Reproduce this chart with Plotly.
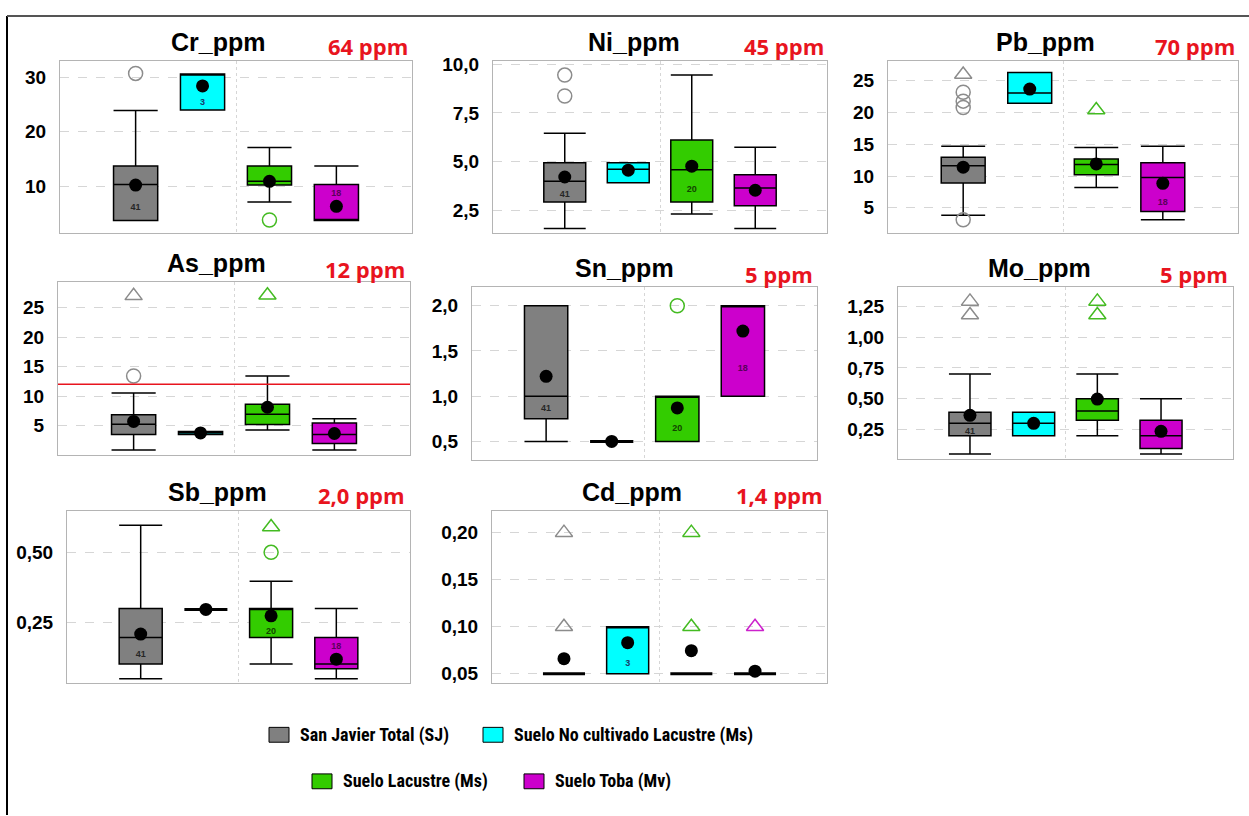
import plotly.graph_objects as go

W, H = 1249, 816

# ---------------- data ----------------
ELEMENTS = ["Cr_ppm", "Ni_ppm", "Pb_ppm", "As_ppm", "Sn_ppm", "Mo_ppm", "Sb_ppm", "Cd_ppm"]
LIMIT_LABELS = ["64 ppm", "45 ppm", "70 ppm", "12 ppm", "5 ppm", "5 ppm", "2,0 ppm", "1,4 ppm"]
LIMIT_VALUES = [64, 45, 70, 12, 5, 5, 2.0, 1.4]
GROUPS = ["San Javier Total (SJ)", "Suelo No cultivado Lacustre (Ms)",
          "Suelo Lacustre (Ms)", "Suelo Toba (Mv)"]

# per element: [SJ, No cultivado, Lacustre, Toba]
LOWER = [
    [3.7, 24.0, 7.1, 3.7],
    [1.55, 3.9, 2.3, 1.55],
    [3.8, 21.45, 8.2, 3.1],
    [0.87, 3.5, 4.25, 0.87],
    [0.5, 0.5, 0.5, 1.0],
    [0.05, 0.2, 0.2, 0.05],
    [0.05, 0.297, 0.103, 0.05],
    [0.05, 0.05, 0.05, 0.05],
]
Q1 = [
    [3.7, 24.0, 10.2, 3.7],
    [2.92, 3.9, 2.92, 2.72],
    [8.9, 21.45, 10.2, 4.4],
    [3.5, 3.5, 5.17, 1.97],
    [0.75, 0.5, 0.5, 1.0],
    [0.2, 0.2, 0.325, 0.095],
    [0.103, 0.297, 0.197, 0.086],
    [0.05, 0.05, 0.05, 0.05],
]
MEDIAN = [
    [10.3, 30.6, 10.9, 3.7],
    [3.98, 4.6, 4.58, 3.64],
    [11.6, 23.1, 11.8, 9.75],
    [5.2, 3.8, 6.9, 3.5],
    [1.0, 0.5, 1.0, 2.0],
    [0.30, 0.30, 0.40, 0.20],
    [0.197, 0.297, 0.30, 0.103],
    [0.05, 0.10, 0.05, 0.05],
]
Q3 = [
    [13.7, 30.6, 13.7, 10.3],
    [4.93, 4.93, 6.1, 4.32],
    [12.96, 26.3, 12.7, 12.1],
    [6.85, 4.0, 8.6, 5.45],
    [2.0, 0.5, 1.0, 2.0],
    [0.39, 0.39, 0.5, 0.325],
    [0.30, 0.297, 0.30, 0.197],
    [0.05, 0.10, 0.05, 0.05],
]
UPPER = [
    [23.9, 30.6, 17.1, 13.7],
    [6.46, 4.93, 9.45, 5.73],
    [14.7, 26.3, 14.5, 14.7],
    [10.5, 4.0, 13.4, 6.15],
    [2.0, 0.5, 1.0, 2.0],
    [0.70, 0.39, 0.70, 0.5],
    [0.596, 0.297, 0.397, 0.30],
    [0.05, 0.10, 0.05, 0.05],
]
MEAN = [
    [10.2, 28.4, 10.9, 6.3],
    [4.2, 4.55, 4.76, 3.52],
    [11.4, 23.7, 11.9, 8.85],
    [5.7, 3.75, 8.1, 3.65],
    [1.22, 0.5, 0.87, 1.72],
    [0.365, 0.30, 0.497, 0.235],
    [0.209, 0.297, 0.274, 0.12],
    [0.066, 0.083, 0.0745, 0.0527],
]
OUTLIERS_CIRCLE = [
    [[30.7], [], [3.8], []],
    [[9.45, 8.37], [], [], []],
    [[23.2, 21.8, 20.8, 3.1], [], [], []],
    [[13.4], [], [], []],
    [[], [], [2.0], []],
    [[], [], [], []],
    [[], [], [0.5], []],
    [[], [], [], []],
]
OUTLIERS_TRIANGLE = [
    [[], [], [], []],
    [[], [], [], []],
    [[26.0], [], [20.4], []],
    [[27.0], [], [27.1], []],
    [[], [], [], []],
    [[1.29, 1.18], [], [1.29, 1.18], []],
    [[], [], [0.59], []],
    [[0.2, 0.1], [], [0.2, 0.1], [0.1]],
]
COUNTS = [
    ["41", "3", "", "18"],
    ["41", "", "20", ""],
    ["", "", "", "18"],
    ["", "", "", ""],
    ["41", "", "20", "18"],
    ["41", "", "", ""],
    ["41", "", "20", "18"],
    ["", "3", "", ""],
]
COUNT_Y = [
    [6.0, 25.3, None, 8.7],
    [3.3, None, 3.57, None],
    [None, None, None, 5.8],
    [None, None, None, None],
    [0.86, None, 0.64, 1.30],
    [0.23, None, None, None],
    [0.136, None, 0.218, 0.164],
    [None, 0.061, None, None],
]
Y_RANGES = [
    [1.45, 32.9], [1.33, 10.15], [1.06, 28.05], [0.08, 29.3],
    [0.30, 2.205], [0.014, 1.405], [0.034, 0.647], [0.0398, 0.223],
]
Y_TICKS = [
    [10, 20, 30], [2.5, 5.0, 7.5, 10.0], [5, 10, 15, 20, 25], [5, 10, 15, 20, 25],
    [0.5, 1.0, 1.5, 2.0], [0.25, 0.5, 0.75, 1.0, 1.25], [0.25, 0.5], [0.05, 0.10, 0.15, 0.20],
]
Y_FORMATS = ["d", ".1f", "d", "d", ".1f", ".2f", ".2f", ".2f"]

# ---------------- styling ----------------
FILL = ["#808080", "#00FFFF", "#33CC00", "#CC00CC"]
OUTLIER_COLORS = ["#8c8c8c", "#00c8c8", "#44bb22", "#cc22cc"]
COUNT_COLORS = ["#262626", "#1a3a6a", "#124400", "#5a005a"]
RED = "#E8141E"

# pixel boxes of the plot areas (x0, x1, y0, y1)
PANELS = [
    (60, 412, 55, 228), (493, 827, 55, 228), (888, 1238, 55, 228),
    (58, 410, 278, 452), (472, 817, 283, 457), (898, 1233, 283, 456),
    (67, 410, 509, 683), (492, 827, 509, 683),
]
TITLE_POS = [(218, 35), (634, 35), (1045, 35), (216, 259), (624, 264), (1039, 264), (217, 490), (632, 490)]
LIMIT_POS = [(410, 39), (826, 39), (1237, 39), (407, 265), (815, 270), (1230, 270), (407, 493), (825, 493)]

POS = [0, 1, 2, 3]
BOX_W = 0.66
XR = [-1.13, 4.13]


def px(x):
    return x / W


def py(y):
    return 1 - y / H


fig = go.Figure()
layout = {}
annotations = []
shapes = []

for i, el in enumerate(ELEMENTS):
    n = i + 1
    xa = "x" if n == 1 else f"x{n}"
    ya = "y" if n == 1 else f"y{n}"
    for g in range(4):
        degenerate = Q1[i][g] == Q3[i][g]
        fig.add_trace(go.Box(
            x=[POS[g]], q1=[Q1[i][g]], median=[MEDIAN[i][g]], q3=[Q3[i][g]],
            lowerfence=[LOWER[i][g]], upperfence=[UPPER[i][g]],
            width=BOX_W, whiskerwidth=1, fillcolor=FILL[g],
            line=dict(color="black", width=3 if degenerate else 1.5),
            boxpoints=False, showlegend=False, hoverinfo="skip",
            xaxis=xa, yaxis=ya))
    for g in range(4):
        if OUTLIERS_CIRCLE[i][g]:
            fig.add_trace(go.Scatter(
                x=[POS[g]] * len(OUTLIERS_CIRCLE[i][g]), y=OUTLIERS_CIRCLE[i][g],
                mode="markers", showlegend=False, hoverinfo="skip",
                marker=dict(symbol="circle-open", size=14, color=OUTLIER_COLORS[g],
                            line=dict(width=1.5, color=OUTLIER_COLORS[g])),
                xaxis=xa, yaxis=ya))
        if OUTLIERS_TRIANGLE[i][g]:
            fig.add_trace(go.Scatter(
                x=[POS[g]] * len(OUTLIERS_TRIANGLE[i][g]), y=OUTLIERS_TRIANGLE[i][g],
                mode="markers", showlegend=False, hoverinfo="skip",
                marker=dict(symbol="triangle-up-open", size=15, color=OUTLIER_COLORS[g],
                            line=dict(width=1.5, color=OUTLIER_COLORS[g])),
                xaxis=xa, yaxis=ya))
    fig.add_trace(go.Scatter(
        x=POS, y=MEAN[i], mode="markers", showlegend=False, hoverinfo="skip",
        marker=dict(color="black", size=13), xaxis=xa, yaxis=ya))
    cx = [POS[g] for g in range(4) if COUNTS[i][g]]
    cy = [COUNT_Y[i][g] for g in range(4) if COUNTS[i][g]]
    ct = [COUNTS[i][g] for g in range(4) if COUNTS[i][g]]
    cc = [COUNT_COLORS[g] for g in range(4) if COUNTS[i][g]]
    if ct:
        fig.add_trace(go.Scatter(
            x=cx, y=cy, text=ct, mode="text", showlegend=False, hoverinfo="skip",
            textfont=dict(size=9, color=cc, family="Arial, Liberation Sans", weight="bold"),
            xaxis=xa, yaxis=ya))

    x0, x1, y0, y1 = PANELS[i]
    layout["xaxis" if n == 1 else f"xaxis{n}"] = dict(
        domain=[px(x0), px(x1)], range=XR, anchor=ya,
        tickvals=[1.5], showticklabels=False, ticks="",
        showgrid=True, gridcolor="#d6d6d6", griddash="dot", gridwidth=1,
        zeroline=False, showline=True, mirror=True, linecolor="#b4b4b4", linewidth=1,
        fixedrange=True)
    layout["yaxis" if n == 1 else f"yaxis{n}"] = dict(
        domain=[py(y1), py(y0)], range=Y_RANGES[i], anchor=xa,
        tickvals=Y_TICKS[i], tickformat=Y_FORMATS[i], ticks="",
        ticklabelstandoff=9,
        tickfont=dict(family="Arial, Liberation Sans", size=19, color="black", weight="bold"),
        showgrid=True, gridcolor="#d6d6d6", griddash="dash", gridwidth=1,
        zeroline=False, showline=True, mirror=True, linecolor="#b4b4b4", linewidth=1,
        fixedrange=True)

    if Y_RANGES[i][0] < LIMIT_VALUES[i] < Y_RANGES[i][1]:
        shapes.append(dict(type="line", xref=f"{xa} domain", yref=ya, x0=0, x1=1,
                           y0=LIMIT_VALUES[i], y1=LIMIT_VALUES[i],
                           line=dict(color=RED, width=1.5)))

    tx, ty = TITLE_POS[i]
    annotations.append(dict(
        x=px(tx), y=py(ty), xref="paper", yref="paper", text=el, showarrow=False,
        xanchor="center", yanchor="middle",
        font=dict(family="Arial, Liberation Sans", size=25, color="black", weight="bold")))
    lx, ly = LIMIT_POS[i]
    annotations.append(dict(
        x=px(lx), y=py(ly), xref="paper", yref="paper", text=LIMIT_LABELS[i], showarrow=False,
        xanchor="right", yanchor="middle",
        font=dict(family="Open Sans", size=22, color=RED, weight="bold")))

# legend (two rows)
LEG_KEYS = [(269, 735), (483, 735), (312, 782), (524, 782)]
for g in range(4):
    kx, ky = LEG_KEYS[g]
    shapes.append(dict(type="rect", xref="paper", yref="paper",
                       x0=px(kx), x1=px(kx + 20), y0=py(ky + 7.5), y1=py(ky - 7.5),
                       fillcolor=FILL[g], line=dict(color="black", width=1)))
    annotations.append(dict(
        x=px(kx + 29), y=py(ky), xref="paper", yref="paper", text=GROUPS[g], showarrow=False,
        xanchor="left", yanchor="middle",
        font=dict(family="Liberation Sans Narrow, Roboto Condensed, Arial Narrow, sans-serif",
                  size=18, color="black", weight="bold")))

# outer frame (left and top edges)
shapes.append(dict(type="line", xref="paper", yref="paper", x0=px(7), x1=px(7), y0=0, y1=py(9),
                   line=dict(color="black", width=2)))
shapes.append(dict(type="line", xref="paper", yref="paper", x0=px(7), x1=1, y0=py(9), y1=py(9),
                   line=dict(color="#555555", width=2)))

fig.update_layout(
    width=W, height=H, margin=dict(l=0, r=0, t=0, b=0),
    paper_bgcolor="white", plot_bgcolor="white",
    separators=",.", boxmode="overlay",
    annotations=annotations, shapes=shapes, **layout)

POST = ("document.body.style.margin='0';document.body.style.padding='0';"
        "var gd=document.getElementById('{plot_id}');"
        "gd.style.position='absolute';gd.style.left='0px';gd.style.top='0px';")
fig.write_html("out.html", post_script=POST, config={"displayModeBar": False})
